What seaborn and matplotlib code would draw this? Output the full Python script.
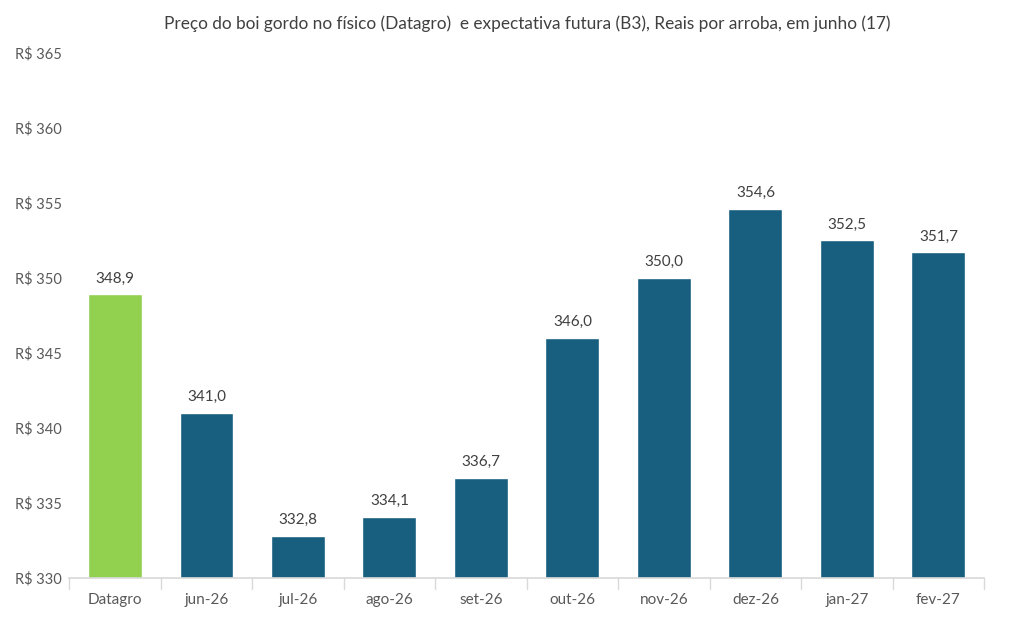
import matplotlib
matplotlib.use("Agg")
import matplotlib.pyplot as plt
import seaborn as sns
import pandas as pd

categories = ["Datagro", "jun-26", "jul-26", "ago-26", "set-26", "out-26",
              "nov-26", "dez-26", "jan-27", "fev-27"]
precos = [348.9, 341.0, 332.8, 334.1, 336.7, 346.0, 350.0, 354.6, 352.5, 351.7]
yticks = [330, 335, 340, 345, 350, 355, 360, 365]

df = pd.DataFrame({"mes": categories, "preco": precos})
cores = ["#92D050"] + ["#175E7F"] * (len(categories) - 1)

sns.set_theme(style="white")
plt.rcParams['font.family'] = ['Lato', 'DejaVu Sans']

fig = plt.figure(figsize=(10.11, 6.29), dpi=100)
ax = fig.add_axes([0.0685, 0.081, 0.905, 0.835])

sns.barplot(data=df, x="mes", y="preco", hue="mes", palette=cores,
            legend=False, width=0.59, ax=ax, saturation=1)

for i, v in enumerate(precos):
    ax.text(i, v + 0.6, f"{v:.1f}".replace(".", ","), ha="center", va="bottom",
            fontsize=11, color="#404040")

ax.set_ylim(330, 365)
ax.set_xlim(-0.5, len(categories) - 0.5)
ax.set_yticks(yticks)
ax.set_yticklabels([f"R$ {t}" for t in yticks], fontsize=10.5, color="#595959",
                   ha="left")
ax.tick_params(axis="x", labelsize=11, labelcolor="#595959", length=0, pad=11)
ax.tick_params(axis="y", length=0, pad=39)
for x in [i - 0.5 for i in range(len(categories) + 1)]:
    ax.plot([x, x], [330, 329.3], color="#D9D9D9", lw=1, clip_on=False)
ax.set_xlabel("")
ax.set_ylabel("")
for s in ["top", "right", "left"]:
    ax.spines[s].set_visible(False)
ax.spines["bottom"].set_color("#D9D9D9")

fig.suptitle("Preço do boi gordo no físico (Datagro)  e expectativa futura (B3), Reais por arroba, em junho (17)",
             x=0.522, y=0.975, fontsize=12.4, color="#404040")

fig.savefig("out.png", dpi=100)
